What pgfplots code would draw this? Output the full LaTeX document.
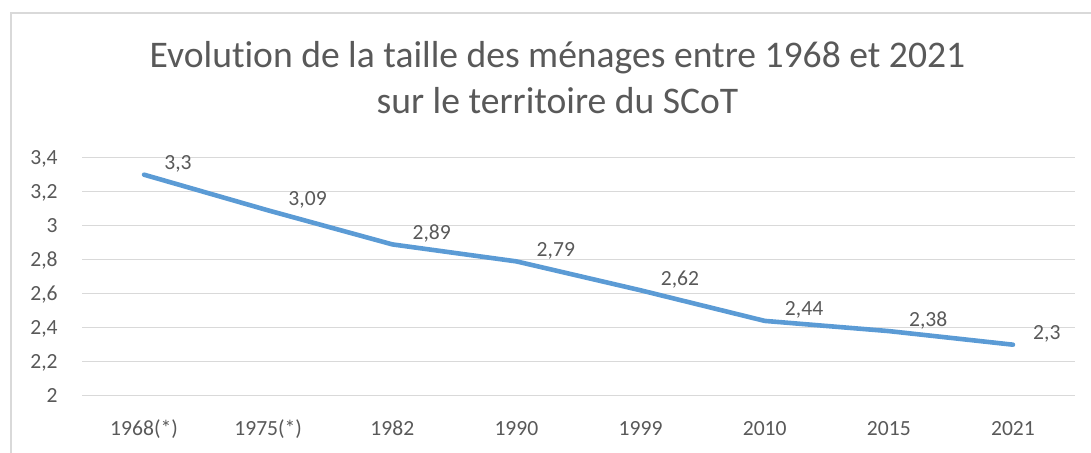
\documentclass[border=0pt]{standalone}
\usepackage{fontspec}
\setmainfont{Carlito}[Ligatures={NoCommon}]
\usepackage{pgfplots}
\pgfplotsset{compat=1.18}
\definecolor{lineblue}{HTML}{5B9BD5}
\definecolor{txtgray}{HTML}{595959}
\definecolor{gridgray}{HTML}{D9D9D9}
\begin{document}
\begin{tikzpicture}
% cadre du graphique
\draw[gridgray, line width=0.8pt] (5.5pt,0pt) -- (5.5pt,220pt) -- (545.5pt,220pt);
% titre
\node[anchor=base, text=txtgray, font=\fontsize{18.8}{22}\selectfont, inner sep=0pt]
  at (278.75pt,192.5pt) {Evolution de la taille des ménages entre 1968 et 2021};
\node[anchor=base, text=txtgray, font=\fontsize{18.8}{22}\selectfont, inner sep=0pt]
  at (278.75pt,169.5pt) {sur le territoire du SCoT};
\begin{axis}[
    at={(41pt,28.65pt)}, anchor=south west,
    scale only axis, width=496.5pt, height=119pt,
    xmin=-0.5, xmax=7.5, ymin=2, ymax=3.4,
    axis line style={draw=none},
    major tick length=0pt,
    xtick={0,1,2,3,4,5,6,7},
    xticklabels={1968(*),1975(*),1982,1990,1999,2010,2015,2021},
    ytick={2,2.2,2.4,2.6,2.8,3,3.2,3.4},
    ymajorgrids, grid style={gridgray, line width=0.75pt},
    ticklabel style={text=txtgray, font=\fontsize{10.8}{12}\selectfont, inner sep=0pt},
    yticklabel style={anchor=base east, xshift=-12pt, yshift=-3.4pt},
    xticklabel style={anchor=base, yshift=-20.15pt},
    /pgf/number format/assume math mode=true,
    /pgf/number format/use comma,
    clip=false,
]
\addplot[lineblue, line width=2.3pt, line cap=round, line join=round,
    point meta=y,
    nodes near coords={\pgfmathprintnumber[use comma]{\pgfplotspointmeta}},
    nodes near coords style={anchor=base west, text=txtgray, font=\fontsize{10.8}{12}\selectfont,
      inner sep=0pt, xshift=9pt, yshift=2.5pt}]
  coordinates {(0,3.3) (1,3.09) (2,2.89) (3,2.79) (4,2.62) (5,2.44) (6,2.38) (7,2.3)};
\end{axis}
\pgfresetboundingbox
\useasboundingbox (0pt,0pt) rectangle (545.5pt,226.5pt);
\end{tikzpicture}
\end{document}
